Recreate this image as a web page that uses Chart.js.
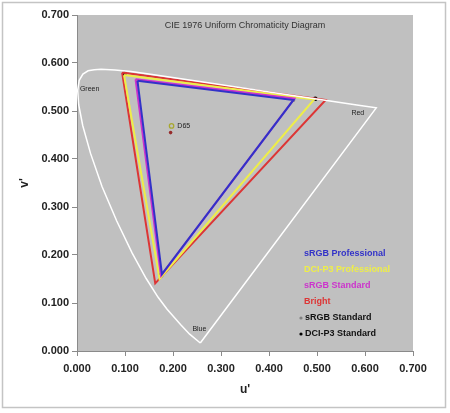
<!DOCTYPE html>
<html>
<head>
<meta charset="utf-8">
<script src="https://cdn.jsdelivr.net/npm/chart.js@4/dist/chart.umd.min.js"></script>
<style>
  html, body { margin: 0; padding: 0; background: #fff; }
  #wrap { width: 450px; height: 413px; }
</style>
</head>
<body>
<div id="wrap"><canvas id="cie"></canvas></div>
<script>
// Spektral eğri (u', v')
const locusU = [0.2568, 0.2347, 0.2161, 0.1877, 0.1690, 0.1441, 0.1147, 0.0828, 0.0521, 0.0282, 0.0119, 0.0035, 0.0014, 0.0046, 0.0123, 0.0231, 0.0360, 0.0501, 0.0792, 0.1127, 0.1531, 0.2026, 0.2623, 0.3315, 0.4035, 0.5203, 0.5830, 0.6234, 0.2568];
const locusV = [0.0166, 0.0350, 0.0549, 0.0871, 0.1119, 0.1510, 0.2044, 0.2708, 0.3427, 0.4117, 0.4698, 0.5131, 0.5432, 0.5638, 0.5770, 0.5837, 0.5861, 0.5868, 0.5856, 0.5821, 0.5766, 0.5694, 0.5604, 0.5501, 0.5393, 0.5219, 0.5125, 0.5065, 0.0166];

// Üçgenler: G, R, B, G
const srgbProU = [0.126, 0.451, 0.177, 0.126];
const srgbProV = [0.563, 0.523, 0.160, 0.563];
const p3ProU = [0.098, 0.494, 0.172, 0.098];
const p3ProV = [0.575, 0.524, 0.150, 0.575];
const srgbStdU = [0.122, 0.453, 0.175, 0.122];
const srgbStdV = [0.566, 0.526, 0.157, 0.566];
const brightU = [0.094, 0.518, 0.163, 0.094];
const brightV = [0.580, 0.523, 0.141, 0.580];

// Noktalar
const srgbDotU = [0.4507, 0.1250, 0.1754];
const srgbDotV = [0.5229, 0.5625, 0.1579];
const p3DotU = [0.0990, 0.4964, 0.1754];
const p3DotV = [0.5777, 0.5256, 0.1579];
const d65U = [0.197];
const d65V = [0.469];
const d65bU = [0.195];
const d65bV = [0.455];

const axisTicks = [0, 0.1, 0.2, 0.3, 0.4, 0.5, 0.6, 0.7];

// Lejant sırası
const legendOrder = ['sRGB Professional', 'DCI-P3 Professional', 'sRGB Standard', 'Bright', 'sRGB Standard dots', 'DCI-P3 Standard'];

const regionLabels = [
    { text: 'Green', u: 0.006, v: 0.546, align: 'left' },
    { text: 'Red', u: 0.585, v: 0.496, align: 'center' },
    { text: 'Blue', u: 0.255, v: 0.046, align: 'center' },
    { text: 'D65', u: 0.209, v: 0.469, align: 'left' }
];

function pts(us, vs) {
    return us.map((u, i) => ({ x: u, y: vs[i] }));
}

function tri(label, us, vs, color) {
    return {
        label: label, key: label, data: pts(us, vs), showLine: true,
        borderColor: color, backgroundColor: color, borderWidth: 2,
        pointRadius: 0, tension: 0, legendColor: color
    };
}

const font = "'Liberation Sans', Arial, sans-serif";

const decorations = {
    id: 'decorations',
    beforeDraw(chart) {
        const { ctx, chartArea: a } = chart;
        ctx.save();
        ctx.fillStyle = '#fff';
        ctx.fillRect(0, 0, chart.width, chart.height);
        ctx.strokeStyle = '#c4c4c4';
        ctx.lineWidth = 1.5;
        ctx.strokeRect(2.5, 2.5, 443, 405);
        ctx.fillStyle = '#c0c0c0';
        ctx.fillRect(a.left, a.top, a.right - a.left, a.bottom - a.top);
        ctx.restore();
    },
    afterDraw(chart) {
        const { ctx, chartArea: a, scales } = chart;
        ctx.save();
        // Başlık
        ctx.fillStyle = '#333';
        ctx.font = '9px ' + font;
        ctx.textAlign = 'center';
        ctx.textBaseline = 'middle';
        ctx.fillText('CIE 1976 Uniform Chromaticity Diagram', (a.left + a.right) / 2, a.top + 11);

        // Bölge etiketleri
        ctx.font = '7px ' + font;
        ctx.fillStyle = '#222';
        regionLabels.forEach(l => {
            ctx.textAlign = l.align;
            ctx.fillText(l.text, scales.x.getPixelForValue(l.u), scales.y.getPixelForValue(l.v));
        });

        // Eksen başlıkları
        ctx.fillStyle = '#222';
        ctx.font = 'bold 12px ' + font;
        ctx.textAlign = 'center';
        ctx.fillText("u'", (a.left + a.right) / 2, a.bottom + 39);
        ctx.save();
        ctx.translate(25, (a.top + a.bottom) / 2);
        ctx.rotate(-Math.PI / 2);
        ctx.fillText("v'", 0, 0);
        ctx.restore();

        // Lejant
        ctx.font = 'bold 9px ' + font;
        ctx.textAlign = 'left';
        let y = 254;
        legendOrder.forEach(key => {
            const d = chart.data.datasets.find(ds => ds.key === key);
            if (d.showLine) {
                ctx.fillStyle = d.legendColor;
                ctx.fillText(d.label, 304, y);
            } else {
                ctx.fillStyle = d.backgroundColor;
                ctx.beginPath();
                ctx.arc(301, y, 1.6, 0, Math.PI * 2);
                ctx.fill();
                ctx.fillStyle = '#111';
                ctx.fillText(d.label, 305, y);
            }
            y += 16;
        });
        ctx.restore();
    }
};

const ctx = document.getElementById('cie').getContext('2d');
const cieChart = new Chart(ctx, {
    type: 'scatter',
    data: {
        datasets: [
            {
                label: 'Locus', data: pts(locusU, locusV), showLine: true,
                borderColor: '#ffffff', borderWidth: 1.5, pointRadius: 0, tension: 0
            },
            tri('sRGB Professional', srgbProU, srgbProV, '#3232c8'),
            tri('sRGB Standard', srgbStdU, srgbStdV, '#cc33cc'),
            tri('DCI-P3 Professional', p3ProU, p3ProV, '#eeee48'),
            tri('Bright', brightU, brightV, '#dd3535'),
            {
                label: 'sRGB Standard', key: 'sRGB Standard dots', data: pts(srgbDotU, srgbDotV),
                pointRadius: 2, backgroundColor: '#808080', borderWidth: 0
            },
            {
                label: 'DCI-P3 Standard', key: 'DCI-P3 Standard', data: pts(p3DotU, p3DotV),
                pointRadius: 2.3, backgroundColor: '#000000', borderWidth: 0
            },
            {
                label: 'D65', data: pts(d65U, d65V),
                pointRadius: 2.2, backgroundColor: 'rgba(0,0,0,0)', borderColor: '#a8a830', borderWidth: 1.3
            },
            {
                label: 'D65 b', data: pts(d65bU, d65bV),
                pointRadius: 1.8, backgroundColor: '#962a2a', borderWidth: 0
            }
        ]
    },
    options: {
        responsive: true,
        maintainAspectRatio: false,
        animation: false,
        events: [],
        layout: { padding: { left: 12, right: 37, top: 15, bottom: 0 } },
        plugins: {
            legend: { display: false },
            tooltip: { enabled: false }
        },
        scales: {
            x: {
                type: 'linear', min: 0, max: 0.7,
                afterBuildTicks: s => { s.ticks = axisTicks.map(v => ({ value: v })); },
                afterFit: s => { s.height = 62; },
                grid: { drawOnChartArea: false, drawTicks: true, tickLength: 5, color: '#8a8a8a' },
                border: { display: true, color: '#8a8a8a' },
                ticks: {
                    padding: 6, color: '#222', maxRotation: 0,
                    font: { family: font, size: 11, weight: 'bold' },
                    callback: v => v.toFixed(3)
                }
            },
            y: {
                type: 'linear', min: 0, max: 0.7,
                afterBuildTicks: s => { s.ticks = axisTicks.map(v => ({ value: v })); },
                afterFit: s => { s.width = 65; },
                grid: { drawOnChartArea: false, drawTicks: true, tickLength: 5, color: '#8a8a8a' },
                border: { display: true, color: '#8a8a8a' },
                ticks: {
                    padding: 3, color: '#222',
                    font: { family: font, size: 11, weight: 'bold' },
                    callback: v => v.toFixed(3)
                }
            }
        }
    },
    plugins: [decorations]
});
</script>
</body>
</html>
